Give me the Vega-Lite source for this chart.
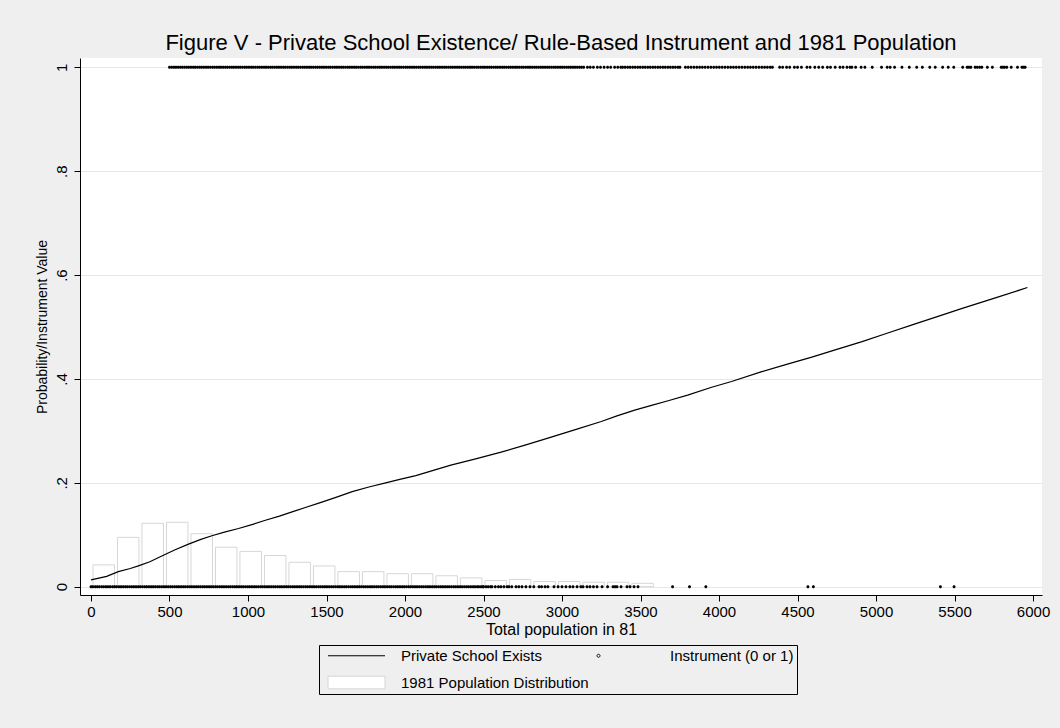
{
  "$schema": "https://vega.github.io/schema/vega-lite/v6.json",
  "width": 962,
  "height": 537,
  "autosize": {"type": "none"},
  "padding": {"left": 80, "top": 58, "right": 18, "bottom": 133},
  "background": "#efefef",
  "view": {"fill": "white", "stroke": null},
  "config": {
    "font": "Liberation Sans",
    "axis": {
      "domainColor": "black",
      "tickColor": "black",
      "tickSize": 6,
      "labelColor": "black",
      "titleColor": "black",
      "titleFontWeight": "normal",
      "labelFontSize": 15,
      "gridColor": "#e6e6e6",
      "labelFlush": false,
      "labelOverlap": false
    },
    "legend": {
      "title": null,
      "orient": "none",
      "legendX": 239,
      "legendY": 587,
      "direction": "horizontal",
      "columns": 2,
      "strokeColor": "black",
      "padding": 3,
      "symbolSize": 9,
      "symbolFillColor": "white",
      "symbolStrokeWidth": 1,
      "labelFontSize": 15,
      "labelColor": "black",
      "labelLimit": 400,
      "labelOffset": 64,
      "rowPadding": 10,
      "columnPadding": 2
    }
  },
  "title": {
    "text": "Figure V - Private School Existence/ Rule-Based Instrument and 1981 Population",
    "fontSize": 22,
    "fontWeight": "normal",
    "color": "black",
    "anchor": "middle",
    "baseline": "alphabetic",
    "offset": -14
  },
  "datasets": {
    "hist": [
      {"lo": 0, "hi": 156, "share": 0.042},
      {"lo": 156, "hi": 312, "share": 0.095},
      {"lo": 312, "hi": 468, "share": 0.122},
      {"lo": 468, "hi": 624, "share": 0.124},
      {"lo": 624, "hi": 780, "share": 0.102},
      {"lo": 780, "hi": 936, "share": 0.076},
      {"lo": 936, "hi": 1092, "share": 0.068},
      {"lo": 1092, "hi": 1248, "share": 0.06},
      {"lo": 1248, "hi": 1404, "share": 0.047},
      {"lo": 1404, "hi": 1560, "share": 0.04},
      {"lo": 1560, "hi": 1716, "share": 0.029},
      {"lo": 1716, "hi": 1872, "share": 0.029},
      {"lo": 1872, "hi": 2028, "share": 0.025},
      {"lo": 2028, "hi": 2184, "share": 0.025},
      {"lo": 2184, "hi": 2340, "share": 0.021},
      {"lo": 2340, "hi": 2496, "share": 0.017},
      {"lo": 2496, "hi": 2652, "share": 0.012},
      {"lo": 2652, "hi": 2808, "share": 0.014},
      {"lo": 2808, "hi": 2964, "share": 0.01},
      {"lo": 2964, "hi": 3120, "share": 0.01},
      {"lo": 3120, "hi": 3276, "share": 0.0085},
      {"lo": 3276, "hi": 3432, "share": 0.0085},
      {"lo": 3432, "hi": 3588, "share": 0.0065}
    ],
    "fit": [
      {"pop": 0, "prob": 0.013}, {"pop": 100, "prob": 0.02}, {"pop": 174, "prob": 0.029},
      {"pop": 250, "prob": 0.035}, {"pop": 302, "prob": 0.04}, {"pop": 375, "prob": 0.048},
      {"pop": 451, "prob": 0.059}, {"pop": 536, "prob": 0.071}, {"pop": 621, "prob": 0.082},
      {"pop": 700, "prob": 0.091}, {"pop": 770, "prob": 0.098}, {"pop": 850, "prob": 0.105},
      {"pop": 940, "prob": 0.112}, {"pop": 1030, "prob": 0.12}, {"pop": 1111, "prob": 0.128},
      {"pop": 1200, "prob": 0.136}, {"pop": 1281, "prob": 0.144}, {"pop": 1370, "prob": 0.153},
      {"pop": 1451, "prob": 0.161}, {"pop": 1560, "prob": 0.172}, {"pop": 1664, "prob": 0.183},
      {"pop": 1770, "prob": 0.192}, {"pop": 1877, "prob": 0.2}, {"pop": 1973, "prob": 0.207},
      {"pop": 2069, "prob": 0.214}, {"pop": 2180, "prob": 0.224}, {"pop": 2292, "prob": 0.234},
      {"pop": 2450, "prob": 0.246}, {"pop": 2612, "prob": 0.259}, {"pop": 2770, "prob": 0.273},
      {"pop": 2931, "prob": 0.288}, {"pop": 3090, "prob": 0.303}, {"pop": 3250, "prob": 0.318},
      {"pop": 3350, "prob": 0.329}, {"pop": 3463, "prob": 0.34}, {"pop": 3570, "prob": 0.349},
      {"pop": 3676, "prob": 0.358}, {"pop": 3800, "prob": 0.369}, {"pop": 3953, "prob": 0.384},
      {"pop": 4080, "prob": 0.395}, {"pop": 4272, "prob": 0.414}, {"pop": 4430, "prob": 0.428},
      {"pop": 4591, "prob": 0.442}, {"pop": 4750, "prob": 0.457}, {"pop": 4911, "prob": 0.472},
      {"pop": 5070, "prob": 0.488}, {"pop": 5230, "prob": 0.504}, {"pop": 5390, "prob": 0.52},
      {"pop": 5549, "prob": 0.536}, {"pop": 5760, "prob": 0.556}, {"pop": 5964, "prob": 0.576}
    ],
    "inst": [
      {"pop":0,"inst":0},{"pop":12,"inst":0},{"pop":27,"inst":0},{"pop":40,"inst":0},{"pop":53,"inst":0},{"pop":68,"inst":0},{"pop":81,"inst":0},{"pop":95,"inst":0},{"pop":108,"inst":0},{"pop":122,"inst":0},
      {"pop":137,"inst":0},{"pop":150,"inst":0},{"pop":163,"inst":0},{"pop":178,"inst":0},{"pop":191,"inst":0},{"pop":205,"inst":0},{"pop":219,"inst":0},{"pop":232,"inst":0},{"pop":246,"inst":0},{"pop":260,"inst":0},
      {"pop":273,"inst":0},{"pop":287,"inst":0},{"pop":301,"inst":0},{"pop":314,"inst":0},{"pop":328,"inst":0},{"pop":342,"inst":0},{"pop":355,"inst":0},{"pop":369,"inst":0},{"pop":383,"inst":0},{"pop":396,"inst":0},
      {"pop":410,"inst":0},{"pop":424,"inst":0},{"pop":437,"inst":0},{"pop":451,"inst":0},{"pop":465,"inst":0},{"pop":478,"inst":0},{"pop":492,"inst":0},{"pop":506,"inst":0},{"pop":519,"inst":0},{"pop":533,"inst":0},
      {"pop":547,"inst":0},{"pop":560,"inst":0},{"pop":574,"inst":0},{"pop":588,"inst":0},{"pop":601,"inst":0},{"pop":615,"inst":0},{"pop":629,"inst":0},{"pop":642,"inst":0},{"pop":656,"inst":0},{"pop":670,"inst":0},
      {"pop":683,"inst":0},{"pop":697,"inst":0},{"pop":711,"inst":0},{"pop":724,"inst":0},{"pop":738,"inst":0},{"pop":752,"inst":0},{"pop":765,"inst":0},{"pop":779,"inst":0},{"pop":793,"inst":0},{"pop":806,"inst":0},
      {"pop":820,"inst":0},{"pop":834,"inst":0},{"pop":847,"inst":0},{"pop":861,"inst":0},{"pop":875,"inst":0},{"pop":888,"inst":0},{"pop":902,"inst":0},{"pop":916,"inst":0},{"pop":929,"inst":0},{"pop":943,"inst":0},
      {"pop":957,"inst":0},{"pop":970,"inst":0},{"pop":984,"inst":0},{"pop":998,"inst":0},{"pop":1011,"inst":0},{"pop":1025,"inst":0},{"pop":1039,"inst":0},{"pop":1052,"inst":0},{"pop":1066,"inst":0},{"pop":1080,"inst":0},
      {"pop":1093,"inst":0},{"pop":1107,"inst":0},{"pop":1121,"inst":0},{"pop":1134,"inst":0},{"pop":1148,"inst":0},{"pop":1162,"inst":0},{"pop":1175,"inst":0},{"pop":1189,"inst":0},{"pop":1203,"inst":0},{"pop":1216,"inst":0},
      {"pop":1230,"inst":0},{"pop":1244,"inst":0},{"pop":1257,"inst":0},{"pop":1271,"inst":0},{"pop":1285,"inst":0},{"pop":1298,"inst":0},{"pop":1312,"inst":0},{"pop":1326,"inst":0},{"pop":1339,"inst":0},{"pop":1353,"inst":0},
      {"pop":1367,"inst":0},{"pop":1380,"inst":0},{"pop":1394,"inst":0},{"pop":1408,"inst":0},{"pop":1421,"inst":0},{"pop":1435,"inst":0},{"pop":1449,"inst":0},{"pop":1462,"inst":0},{"pop":1476,"inst":0},{"pop":1490,"inst":0},
      {"pop":1503,"inst":0},{"pop":1517,"inst":0},{"pop":1531,"inst":0},{"pop":1544,"inst":0},{"pop":1558,"inst":0},{"pop":1572,"inst":0},{"pop":1585,"inst":0},{"pop":1599,"inst":0},{"pop":1613,"inst":0},{"pop":1626,"inst":0},
      {"pop":1640,"inst":0},{"pop":1654,"inst":0},{"pop":1667,"inst":0},{"pop":1681,"inst":0},{"pop":1695,"inst":0},{"pop":1708,"inst":0},{"pop":1722,"inst":0},{"pop":1736,"inst":0},{"pop":1749,"inst":0},{"pop":1763,"inst":0},
      {"pop":1777,"inst":0},{"pop":1790,"inst":0},{"pop":1804,"inst":0},{"pop":1818,"inst":0},{"pop":1831,"inst":0},{"pop":1845,"inst":0},{"pop":1859,"inst":0},{"pop":1872,"inst":0},{"pop":1886,"inst":0},{"pop":1900,"inst":0},
      {"pop":1913,"inst":0},{"pop":1927,"inst":0},{"pop":1941,"inst":0},{"pop":1954,"inst":0},{"pop":1968,"inst":0},{"pop":1982,"inst":0},{"pop":1995,"inst":0},{"pop":2009,"inst":0},{"pop":2023,"inst":0},{"pop":2036,"inst":0},
      {"pop":2050,"inst":0},{"pop":2064,"inst":0},{"pop":2077,"inst":0},{"pop":2091,"inst":0},{"pop":2105,"inst":0},{"pop":2118,"inst":0},{"pop":2132,"inst":0},{"pop":2146,"inst":0},{"pop":2159,"inst":0},{"pop":2173,"inst":0},
      {"pop":2187,"inst":0},{"pop":2200,"inst":0},{"pop":2214,"inst":0},{"pop":2228,"inst":0},{"pop":2241,"inst":0},{"pop":2255,"inst":0},{"pop":2269,"inst":0},{"pop":2282,"inst":0},{"pop":2296,"inst":0},{"pop":2310,"inst":0},
      {"pop":2323,"inst":0},{"pop":2337,"inst":0},{"pop":2351,"inst":0},{"pop":2364,"inst":0},{"pop":2378,"inst":0},{"pop":2392,"inst":0},{"pop":2405,"inst":0},{"pop":2419,"inst":0},{"pop":2433,"inst":0},{"pop":2446,"inst":0},
      {"pop":2460,"inst":0},{"pop":2470,"inst":0},{"pop":2484,"inst":0},{"pop":2495,"inst":0},{"pop":2500,"inst":0},{"pop":2516,"inst":0},{"pop":2530,"inst":0},{"pop":2545,"inst":0},{"pop":2554,"inst":0},{"pop":2575,"inst":0},
      {"pop":2595,"inst":0},{"pop":2611,"inst":0},{"pop":2630,"inst":0},{"pop":2650,"inst":0},{"pop":2662,"inst":0},{"pop":2680,"inst":0},{"pop":2707,"inst":0},{"pop":2725,"inst":0},{"pop":2745,"inst":0},{"pop":2770,"inst":0},
      {"pop":2796,"inst":0},{"pop":2820,"inst":0},{"pop":2854,"inst":0},{"pop":2870,"inst":0},{"pop":2892,"inst":0},{"pop":2910,"inst":0},{"pop":2949,"inst":0},{"pop":2975,"inst":0},{"pop":3000,"inst":0},{"pop":3025,"inst":0},
      {"pop":3050,"inst":0},{"pop":3070,"inst":0},{"pop":3096,"inst":0},{"pop":3120,"inst":0},{"pop":3134,"inst":0},{"pop":3159,"inst":0},{"pop":3178,"inst":0},{"pop":3200,"inst":0},{"pop":3223,"inst":0},{"pop":3255,"inst":0},
      {"pop":3290,"inst":0},{"pop":3325,"inst":0},{"pop":3338,"inst":0},{"pop":3350,"inst":0},{"pop":3376,"inst":0},{"pop":3414,"inst":0},{"pop":3433,"inst":0},{"pop":3459,"inst":0},{"pop":3484,"inst":0},{"pop":3704,"inst":0},
      {"pop":3812,"inst":0},{"pop":3916,"inst":0},{"pop":4566,"inst":0},{"pop":4601,"inst":0},{"pop":5410,"inst":0},{"pop":5497,"inst":0},
      {"pop":500,"inst":1},{"pop":514,"inst":1},{"pop":528,"inst":1},{"pop":541,"inst":1},{"pop":555,"inst":1},{"pop":569,"inst":1},{"pop":582,"inst":1},{"pop":596,"inst":1},{"pop":610,"inst":1},{"pop":623,"inst":1},
      {"pop":637,"inst":1},{"pop":651,"inst":1},{"pop":664,"inst":1},{"pop":678,"inst":1},{"pop":692,"inst":1},{"pop":705,"inst":1},{"pop":719,"inst":1},{"pop":733,"inst":1},{"pop":746,"inst":1},{"pop":760,"inst":1},
      {"pop":774,"inst":1},{"pop":787,"inst":1},{"pop":801,"inst":1},{"pop":815,"inst":1},{"pop":828,"inst":1},{"pop":842,"inst":1},{"pop":856,"inst":1},{"pop":869,"inst":1},{"pop":883,"inst":1},{"pop":897,"inst":1},
      {"pop":910,"inst":1},{"pop":924,"inst":1},{"pop":938,"inst":1},{"pop":951,"inst":1},{"pop":965,"inst":1},{"pop":979,"inst":1},{"pop":992,"inst":1},{"pop":1006,"inst":1},{"pop":1020,"inst":1},{"pop":1033,"inst":1},
      {"pop":1047,"inst":1},{"pop":1061,"inst":1},{"pop":1074,"inst":1},{"pop":1088,"inst":1},{"pop":1102,"inst":1},{"pop":1115,"inst":1},{"pop":1129,"inst":1},{"pop":1143,"inst":1},{"pop":1156,"inst":1},{"pop":1170,"inst":1},
      {"pop":1184,"inst":1},{"pop":1197,"inst":1},{"pop":1211,"inst":1},{"pop":1225,"inst":1},{"pop":1238,"inst":1},{"pop":1252,"inst":1},{"pop":1266,"inst":1},{"pop":1279,"inst":1},{"pop":1293,"inst":1},{"pop":1307,"inst":1},
      {"pop":1320,"inst":1},{"pop":1334,"inst":1},{"pop":1348,"inst":1},{"pop":1361,"inst":1},{"pop":1375,"inst":1},{"pop":1389,"inst":1},{"pop":1402,"inst":1},{"pop":1416,"inst":1},{"pop":1430,"inst":1},{"pop":1443,"inst":1},
      {"pop":1457,"inst":1},{"pop":1471,"inst":1},{"pop":1484,"inst":1},{"pop":1498,"inst":1},{"pop":1512,"inst":1},{"pop":1525,"inst":1},{"pop":1539,"inst":1},{"pop":1553,"inst":1},{"pop":1566,"inst":1},{"pop":1580,"inst":1},
      {"pop":1594,"inst":1},{"pop":1607,"inst":1},{"pop":1621,"inst":1},{"pop":1635,"inst":1},{"pop":1648,"inst":1},{"pop":1662,"inst":1},{"pop":1676,"inst":1},{"pop":1689,"inst":1},{"pop":1703,"inst":1},{"pop":1717,"inst":1},
      {"pop":1730,"inst":1},{"pop":1744,"inst":1},{"pop":1758,"inst":1},{"pop":1771,"inst":1},{"pop":1785,"inst":1},{"pop":1799,"inst":1},{"pop":1812,"inst":1},{"pop":1826,"inst":1},{"pop":1840,"inst":1},{"pop":1853,"inst":1},
      {"pop":1867,"inst":1},{"pop":1881,"inst":1},{"pop":1894,"inst":1},{"pop":1908,"inst":1},{"pop":1922,"inst":1},{"pop":1935,"inst":1},{"pop":1949,"inst":1},{"pop":1963,"inst":1},{"pop":1976,"inst":1},{"pop":1990,"inst":1},
      {"pop":2004,"inst":1},{"pop":2017,"inst":1},{"pop":2031,"inst":1},{"pop":2045,"inst":1},{"pop":2058,"inst":1},{"pop":2072,"inst":1},{"pop":2086,"inst":1},{"pop":2099,"inst":1},{"pop":2113,"inst":1},{"pop":2127,"inst":1},
      {"pop":2140,"inst":1},{"pop":2154,"inst":1},{"pop":2168,"inst":1},{"pop":2181,"inst":1},{"pop":2195,"inst":1},{"pop":2209,"inst":1},{"pop":2222,"inst":1},{"pop":2236,"inst":1},{"pop":2250,"inst":1},{"pop":2263,"inst":1},
      {"pop":2277,"inst":1},{"pop":2291,"inst":1},{"pop":2304,"inst":1},{"pop":2318,"inst":1},{"pop":2332,"inst":1},{"pop":2345,"inst":1},{"pop":2359,"inst":1},{"pop":2373,"inst":1},{"pop":2386,"inst":1},{"pop":2400,"inst":1},
      {"pop":2414,"inst":1},{"pop":2427,"inst":1},{"pop":2441,"inst":1},{"pop":2455,"inst":1},{"pop":2468,"inst":1},{"pop":2482,"inst":1},{"pop":2496,"inst":1},{"pop":2509,"inst":1},{"pop":2523,"inst":1},{"pop":2537,"inst":1},
      {"pop":2550,"inst":1},{"pop":2564,"inst":1},{"pop":2578,"inst":1},{"pop":2591,"inst":1},{"pop":2605,"inst":1},{"pop":2619,"inst":1},{"pop":2632,"inst":1},{"pop":2646,"inst":1},{"pop":2660,"inst":1},{"pop":2673,"inst":1},
      {"pop":2687,"inst":1},{"pop":2701,"inst":1},{"pop":2714,"inst":1},{"pop":2728,"inst":1},{"pop":2742,"inst":1},{"pop":2755,"inst":1},{"pop":2769,"inst":1},{"pop":2783,"inst":1},{"pop":2796,"inst":1},{"pop":2810,"inst":1},
      {"pop":2824,"inst":1},{"pop":2837,"inst":1},{"pop":2851,"inst":1},{"pop":2865,"inst":1},{"pop":2878,"inst":1},{"pop":2892,"inst":1},{"pop":2906,"inst":1},{"pop":2919,"inst":1},{"pop":2933,"inst":1},{"pop":2947,"inst":1},
      {"pop":2960,"inst":1},{"pop":2974,"inst":1},{"pop":2988,"inst":1},{"pop":3001,"inst":1},{"pop":3015,"inst":1},{"pop":3029,"inst":1},{"pop":3042,"inst":1},{"pop":3056,"inst":1},{"pop":3070,"inst":1},{"pop":3083,"inst":1},
      {"pop":3097,"inst":1},{"pop":3111,"inst":1},{"pop":3124,"inst":1},{"pop":3138,"inst":1},{"pop":3162,"inst":1},{"pop":3180,"inst":1},{"pop":3200,"inst":1},{"pop":3225,"inst":1},{"pop":3245,"inst":1},{"pop":3268,"inst":1},
      {"pop":3290,"inst":1},{"pop":3310,"inst":1},{"pop":3335,"inst":1},{"pop":3355,"inst":1},{"pop":3374,"inst":1},{"pop":3386,"inst":1},{"pop":3402,"inst":1},{"pop":3418,"inst":1},{"pop":3434,"inst":1},{"pop":3450,"inst":1},
      {"pop":3466,"inst":1},{"pop":3482,"inst":1},{"pop":3498,"inst":1},{"pop":3514,"inst":1},{"pop":3530,"inst":1},{"pop":3546,"inst":1},{"pop":3562,"inst":1},{"pop":3578,"inst":1},{"pop":3594,"inst":1},{"pop":3610,"inst":1},
      {"pop":3626,"inst":1},{"pop":3642,"inst":1},{"pop":3658,"inst":1},{"pop":3674,"inst":1},{"pop":3690,"inst":1},{"pop":3706,"inst":1},{"pop":3722,"inst":1},{"pop":3738,"inst":1},{"pop":3751,"inst":1},{"pop":3786,"inst":1},
      {"pop":3804,"inst":1},{"pop":3822,"inst":1},{"pop":3840,"inst":1},{"pop":3858,"inst":1},{"pop":3876,"inst":1},{"pop":3894,"inst":1},{"pop":3912,"inst":1},{"pop":3930,"inst":1},{"pop":3948,"inst":1},{"pop":3966,"inst":1},
      {"pop":3984,"inst":1},{"pop":4002,"inst":1},{"pop":4020,"inst":1},{"pop":4038,"inst":1},{"pop":4056,"inst":1},{"pop":4074,"inst":1},{"pop":4092,"inst":1},{"pop":4110,"inst":1},{"pop":4128,"inst":1},{"pop":4146,"inst":1},
      {"pop":4164,"inst":1},{"pop":4182,"inst":1},{"pop":4200,"inst":1},{"pop":4218,"inst":1},{"pop":4236,"inst":1},{"pop":4254,"inst":1},{"pop":4272,"inst":1},{"pop":4290,"inst":1},{"pop":4308,"inst":1},{"pop":4326,"inst":1},
      {"pop":4340,"inst":1},{"pop":4386,"inst":1},{"pop":4405,"inst":1},{"pop":4430,"inst":1},{"pop":4450,"inst":1},{"pop":4480,"inst":1},{"pop":4500,"inst":1},{"pop":4525,"inst":1},{"pop":4560,"inst":1},{"pop":4580,"inst":1},
      {"pop":4610,"inst":1},{"pop":4635,"inst":1},{"pop":4660,"inst":1},{"pop":4690,"inst":1},{"pop":4710,"inst":1},{"pop":4740,"inst":1},{"pop":4770,"inst":1},{"pop":4790,"inst":1},{"pop":4815,"inst":1},{"pop":4834,"inst":1},
      {"pop":4846,"inst":1},{"pop":4870,"inst":1},{"pop":4905,"inst":1},{"pop":4929,"inst":1},{"pop":4976,"inst":1},{"pop":5035,"inst":1},{"pop":5071,"inst":1},{"pop":5090,"inst":1},{"pop":5118,"inst":1},{"pop":5165,"inst":1},
      {"pop":5212,"inst":1},{"pop":5259,"inst":1},{"pop":5295,"inst":1},{"pop":5342,"inst":1},{"pop":5377,"inst":1},{"pop":5424,"inst":1},{"pop":5460,"inst":1},{"pop":5495,"inst":1},{"pop":5552,"inst":1},{"pop":5580,"inst":1},
      {"pop":5592,"inst":1},{"pop":5604,"inst":1},{"pop":5631,"inst":1},{"pop":5645,"inst":1},{"pop":5660,"inst":1},{"pop":5674,"inst":1},{"pop":5709,"inst":1},{"pop":5741,"inst":1},{"pop":5797,"inst":1},{"pop":5808,"inst":1},
      {"pop":5819,"inst":1},{"pop":5833,"inst":1},{"pop":5861,"inst":1},{"pop":5901,"inst":1},{"pop":5929,"inst":1},{"pop":5940,"inst":1},{"pop":5950,"inst":1}
    ]
  },
  "layer": [
    {
      "data": {"name": "hist"},
      "mark": {"type": "bar", "fill": "white", "strokeWidth": 1, "binSpacing": 3},
      "encoding": {
        "x": {
          "field": "lo",
          "type": "quantitative",
          "bin": {"binned": true, "step": 156},
          "scale": {"domain": [-70, 6057], "nice": false, "zero": false},
          "axis": {
            "title": "Total population in 81",
            "titleFontSize": 16,
            "titlePadding": 2,
            "labelPadding": 3,
            "values": [0, 500, 1000, 1500, 2000, 2500, 3000, 3500, 4000, 4500, 5000, 5500, 6000],
            "format": "d",
            "grid": false
          }
        },
        "x2": {"field": "hi"},
        "y": {
          "field": "share",
          "type": "quantitative",
          "scale": {"domain": [-0.016, 1.018], "nice": false, "zero": false},
          "axis": {
            "title": "Probability/Instrument Value",
            "titleFontSize": 14,
            "titlePadding": 5,
            "values": [0, 0.2, 0.4, 0.6, 0.8, 1],
            "labelExpr": "datum.value == 0 ? '0' : datum.value == 1 ? '1' : replace(format(datum.value, '.1f'), '0.', '.')",
            "labelAngle": 270,
            "labelAlign": "center",
            "labelBaseline": "bottom",
            "labelPadding": 5,
            "grid": true
          }
        },
        "y2": {"datum": 0},
        "stroke": {
          "datum": "1981 Population Distribution",
          "type": "nominal",
          "scale": {
            "domain": ["Private School Exists", "Instrument (0 or 1)", "1981 Population Distribution"],
            "range": ["black", "black", "#d6d6d6"]
          }
        }
      }
    },
    {
      "data": {"name": "fit"},
      "mark": {"type": "line", "strokeWidth": 1.2, "interpolate": "linear"},
      "encoding": {
        "x": {"field": "pop", "type": "quantitative"},
        "y": {"field": "prob", "type": "quantitative"},
        "stroke": {"datum": "Private School Exists", "type": "nominal"}
      }
    },
    {
      "data": {"name": "inst"},
      "mark": {"type": "point", "filled": true, "size": 9, "color": "black", "opacity": 1, "strokeWidth": 0},
      "encoding": {
        "x": {"field": "pop", "type": "quantitative"},
        "y": {"field": "inst", "type": "quantitative"},
        "stroke": {"datum": "Instrument (0 or 1)", "type": "nominal"},
        "shape": {
          "datum": "Instrument (0 or 1)",
          "type": "nominal",
          "scale": {
            "domain": ["Private School Exists", "Instrument (0 or 1)", "1981 Population Distribution"],
            "range": ["M-1,0H37", "M-1,0A1,1 0 1,0 1,0A1,1 0 1,0 -1,0Z", "M-1,-4.2H37V4.2H-1Z"]
          }
        }
      }
    }
  ]
}
